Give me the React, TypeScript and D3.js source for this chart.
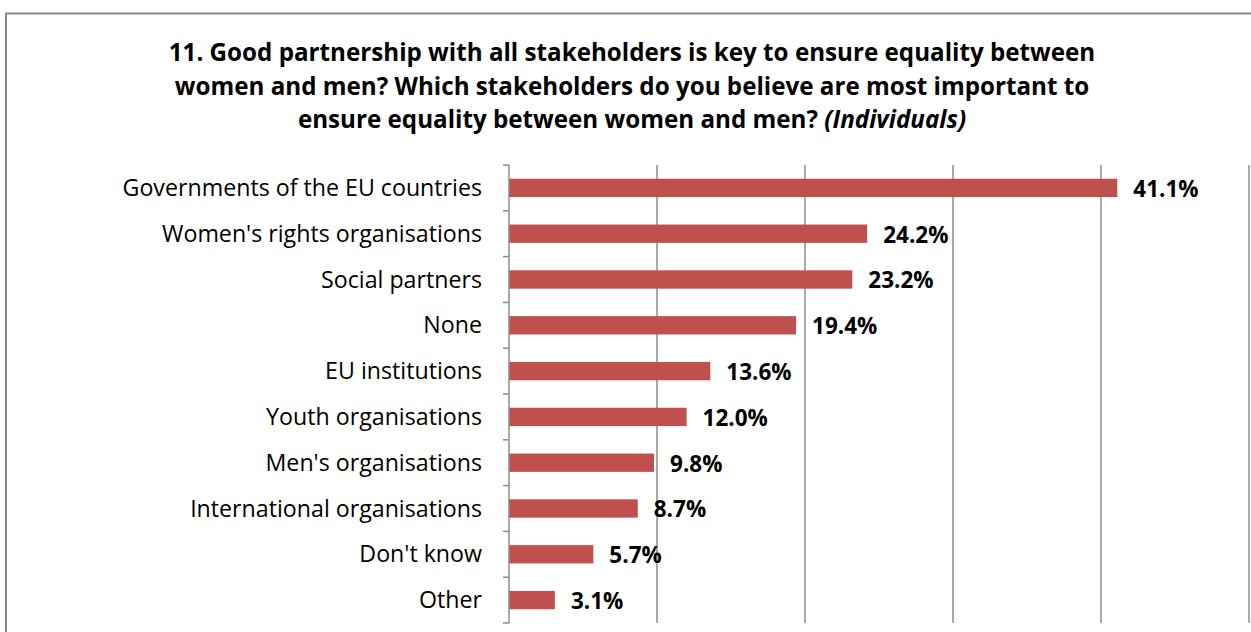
import React from "react";
import * as d3 from "d3";

const categories = [
  "Governments of the EU countries",
  "Women's rights organisations",
  "Social partners",
  "None",
  "EU institutions",
  "Youth organisations",
  "Men's organisations",
  "International organisations",
  "Don't know",
  "Other",
];
const values = [41.1, 24.2, 23.2, 19.4, 13.6, 12.0, 9.8, 8.7, 5.7, 3.1];
const xTicks = [0, 10, 20, 30, 40, 50];
const titleLines = [
  "11. Good partnership with all stakeholders is key to ensure equality between",
  "women and men? Which stakeholders do you believe are most important to",
  "ensure equality between women and men?",
];
const titleItalic = "(Individuals)";

const W = 1251;
const H = 632;
const FONT = "'Open Sans', 'DejaVu Sans', sans-serif";

export default function App() {
  const left = 509;
  const top = 165;
  const bottom = 623;

  const x = d3.scaleLinear().domain([0, 50]).range([left, left + 740]);
  const y = d3.scaleBand().domain(categories).range([top, bottom]).paddingInner(0.6).paddingOuter(0.3);
  const band = (bottom - top) / categories.length;

  return (
    <div style={{ position: "fixed", left: 0, top: 0 }}>
      <svg width={W} height={H} style={{ display: "block", background: "#fff" }}>
        <rect x={6} y={13.5} width={W + 20} height={H + 20} fill="#fff" stroke="#888" strokeWidth={2} />
        {titleLines.map((t, i) => (
          <text
            key={i}
            x={632}
            y={61 + i * 33.5}
            textAnchor="middle"
            fontFamily={FONT}
            fontWeight="bold"
            fontSize={24.2}
            fill="#000"
          >
            {t}
            {i === titleLines.length - 1 ? (
              <tspan fontStyle="italic">{" " + titleItalic}</tspan>
            ) : null}
          </text>
        ))}
        {xTicks.slice(1).map((t) => (
          <line key={t} x1={x(t)} x2={x(t)} y1={top} y2={bottom} stroke="#8c8c8c" strokeWidth={1.5} />
        ))}
        {categories.map((c, i) => (
          <rect
            key={c}
            x={x(0)}
            y={y(c)!}
            width={x(values[i]) - x(0)}
            height={y.bandwidth()}
            fill="#c0504d"
          />
        ))}
        <line x1={left} x2={left} y1={top} y2={bottom} stroke="#8c8c8c" strokeWidth={1.5} />
        {d3.range(categories.length + 1).map((i) => (
          <line
            key={i}
            x1={left - 6}
            x2={left}
            y1={top + i * band}
            y2={top + i * band}
            stroke="#8c8c8c"
            strokeWidth={1.5}
          />
        ))}
        {categories.map((c) => (
          <text
            key={c}
            x={left - 27}
            y={y(c)! + y.bandwidth() / 2}
            dy="0.35em"
            textAnchor="end"
            fontFamily={FONT}
            fontSize={23.2}
            fill="#000"
          >
            {c}
          </text>
        ))}
        {categories.map((c, i) => (
          <text
            key={c}
            x={x(values[i]) + 16}
            y={y(c)! + y.bandwidth() / 2 + 1}
            dy="0.35em"
            fontFamily={FONT}
            fontWeight="bold"
            fontSize={22.5}
            fill="#000"
          >
            {values[i].toFixed(1) + "%"}
          </text>
        ))}
      </svg>
    </div>
  );
}
